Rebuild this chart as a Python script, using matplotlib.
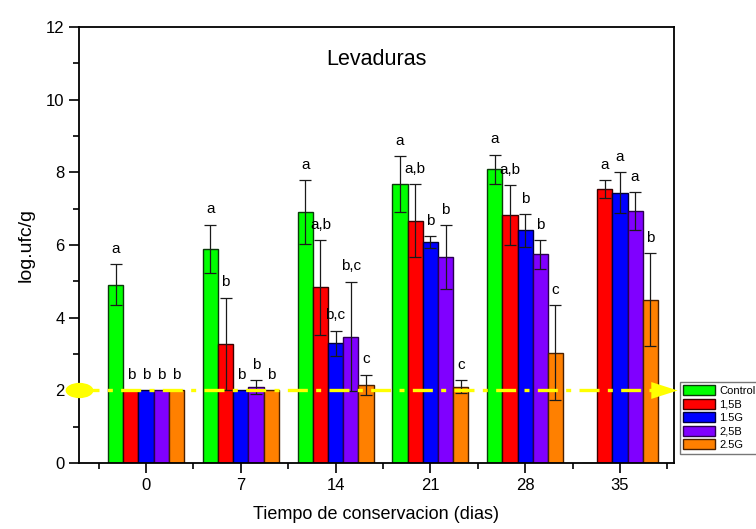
import matplotlib
matplotlib.use("Agg")
import matplotlib.pyplot as plt
import numpy as np
from matplotlib.path import Path
from matplotlib.ticker import MultipleLocator, FixedLocator

plt.rcParams['font.family'] = ['Liberation Sans', 'DejaVu Sans']

# Storage time (days) and yeast counts (log ufc/g) per treatment
days = ["0", "7", "14", "21", "28", "35"]
series = ["Control", "1,5B", "1.5G", "2,5B", "2.5G"]

control = [4.91, 5.90, 6.91, 7.67, 8.08, 0.0]
b15 = [2.0, 3.28, 4.83, 6.67, 6.82, 7.53]
g15 = [2.0, 2.0, 3.29, 6.08, 6.40, 7.44]
b25 = [2.0, 2.09, 3.48, 5.67, 5.74, 6.93]
g25 = [2.0, 2.0, 2.15, 2.10, 3.04, 4.49]

err_control = [0.56, 0.66, 0.87, 0.77, 0.41, 0.0]
err_b15 = [0.0, 1.27, 1.31, 1.01, 0.82, 0.25]
err_g15 = [0.0, 0.0, 0.35, 0.16, 0.45, 0.57]
err_b25 = [0.0, 0.19, 1.51, 0.87, 0.40, 0.52]
err_g25 = [0.0, 0.0, 0.28, 0.18, 1.30, 1.28]

lab_control = ["a", "a", "a", "a", "a", ""]
lab_b15 = ["b", "b", "a,b", "a,b", "a,b", "a"]
lab_g15 = ["b", "b", "b,c", "b", "b", "a"]
lab_b25 = ["b", "b", "b,c", "b", "b", "a"]
lab_g25 = ["b", "b", "c", "c", "c", "b"]

detection_limit = 2.0

values = [control, b15, g15, b25, g25]
errors = [err_control, err_b15, err_g15, err_b25, err_g25]
letters = [lab_control, lab_b15, lab_g15, lab_b25, lab_g25]
colors = ["#00ff00", "#ff0000", "#0000ff", "#8000ff", "#ff8000"]
edges = ["#0a3a0a", "#3a0000", "#00003a", "#2a0050", "#4a2000"]

fig = plt.figure(figsize=(7.56, 5.29), dpi=100)
ax = fig.add_axes([0.1045, 0.1248, 0.787, 0.8242])

x = np.arange(len(days))
width = 0.16
for i, (vals, errs, labs) in enumerate(zip(values, errors, letters)):
    xi = x + (i - 2) * width
    vals = np.array(vals)
    errs = np.array(errs)
    ax.bar(xi, vals, width=width, color=colors[i], edgecolor=edges[i],
           linewidth=1.0, label=series[i], zorder=2)
    m = errs > 0
    ax.errorbar(xi[m], vals[m], yerr=errs[m], fmt='none', ecolor='#1a1a1a',
                elinewidth=0.9, capsize=4, capthick=0.9, zorder=3)
    for xx, v, e, t in zip(xi, vals, errs, labs):
        if t:
            ax.text(xx, v + e + 0.42, t, ha='center', va='center',
                    fontsize=11, zorder=4)

# detection limit line with end markers
ell = Path.unit_circle()
ell = Path(ell.vertices * np.array([1.0, 0.55]), ell.codes)
tri = Path([(-0.5, 0.32), (0.5, 0.0), (-0.5, -0.32), (-0.5, 0.32)],
           [Path.MOVETO, Path.LINETO, Path.LINETO, Path.CLOSEPOLY])
xmin, xmax = -0.707, 5.57
ax.plot([xmin, 5.40], [detection_limit] * 2, color='#ffff00', lw=2.4,
        dashes=(6, 2.5, 1.5, 2.5), zorder=5, clip_on=False)
ax.plot([xmin], [detection_limit], marker=ell, markersize=20, color='#ffff00',
        markeredgewidth=0, zorder=6, clip_on=False)
ax.plot([5.47], [detection_limit], marker=tri, markersize=19, color='#ffff00',
        markeredgewidth=0, zorder=6, clip_on=False)

ax.set_xlim(xmin, xmax)
ax.set_ylim(0, 12)
ax.set_xticks(x)
ax.set_xticklabels(days)
ax.xaxis.set_minor_locator(FixedLocator(np.arange(-0.5, 6.0, 1.0)))
ax.yaxis.set_major_locator(MultipleLocator(2))
ax.yaxis.set_minor_locator(MultipleLocator(1))
ax.tick_params(which='major', direction='out', length=7, width=1.2,
               labelsize=12, top=False, right=False)
ax.tick_params(which='minor', direction='out', length=4, width=1.2,
               top=False, right=False)
for s in ax.spines.values():
    s.set_linewidth(1.3)

ax.set_xlabel("Tiempo de conservacion (dias)", fontsize=13, labelpad=10)
ax.set_ylabel("log.ufc/g", fontsize=14, labelpad=8)
ax.text(0.5, 0.925, "Levaduras", transform=ax.transAxes, ha='center',
        va='center', fontsize=15.5)

fig.legend(loc='upper left', bbox_to_anchor=(0.899, 0.278), fontsize=8,
           frameon=True, fancybox=False, edgecolor='#555555',
           handlelength=2.9, handleheight=1.0, handletextpad=0.35,
           labelspacing=0.25, borderpad=0.3, borderaxespad=0.0)

fig.savefig("out.png", dpi=100, facecolor='white')
